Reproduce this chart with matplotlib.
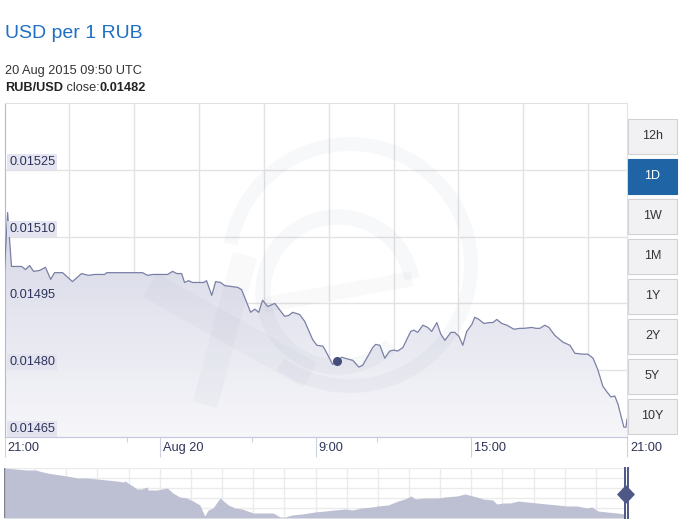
"""XE style intraday chart: USD per 1 RUB, 20 Aug 2015."""

import matplotlib

matplotlib.use("Agg")
import matplotlib.pyplot as plt
import matplotlib.patches as mpatches
import matplotlib.transforms as mtransforms
import numpy as np
from matplotlib.colors import LinearSegmentedColormap
from matplotlib.lines import Line2D

plt.rcParams["font.family"] = ["Liberation Sans", "DejaVu Sans"]

WIDTH, HEIGHT = 685, 525

# hours after 21:00 (Aug 19) and USD per 1 RUB
hours = [
    0.0, 0.12, 0.27, 0.66, 0.81, 0.97, 1.12, 1.35, 1.58, 1.78,
    1.93, 2.24, 2.62, 2.97, 3.24, 3.47, 3.86, 3.94, 5.32, 5.52,
    5.71, 6.29, 6.48, 6.64, 6.83, 6.94, 7.10, 7.25, 7.49, 7.68,
    7.79, 7.99, 8.14, 8.33, 8.49, 8.99, 9.14, 9.49, 9.65, 9.80,
    9.95, 10.15, 10.42, 10.80, 10.96, 11.11, 11.38, 11.57, 11.88, 12.04,
    12.27, 12.35, 12.65, 12.81, 13.00, 13.43, 13.66, 13.81, 14.20, 14.31,
    14.47, 14.66, 14.85, 15.01, 15.16, 15.36, 15.66, 15.78, 15.93, 16.13,
    16.32, 16.47, 16.67, 16.82, 16.98, 17.21, 17.36, 17.52, 17.67, 17.82,
    18.02, 18.13, 18.29, 18.48, 18.71, 18.83, 18.98, 19.17, 19.37, 19.64,
    19.87, 20.02, 20.33, 20.49, 20.64, 20.83, 20.99, 21.22, 21.53, 21.80,
    21.99, 22.30, 22.49, 22.69, 22.87, 23.07, 23.23, 23.38, 23.53, 23.65,
    23.88, 23.96, 24.0,
]
rates = [
    0.015026, 0.015154, 0.015033, 0.015033, 0.015026, 0.015035, 0.015022, 0.015024, 0.015031, 0.015004,
    0.015019, 0.015019, 0.014999, 0.015017, 0.015013, 0.015015, 0.015015, 0.015019, 0.015019, 0.015013,
    0.015015, 0.015015, 0.015022, 0.015017, 0.015017, 0.014997, 0.015001, 0.014997, 0.014997, 0.014997,
    0.015001, 0.014968, 0.014999, 0.014997, 0.014990, 0.014986, 0.014981, 0.014930, 0.014937, 0.014930,
    0.014957, 0.014943, 0.014950, 0.014921, 0.014923, 0.014930, 0.014925, 0.014910, 0.014869, 0.014856,
    0.014854, 0.014847, 0.014813, 0.014820, 0.014829, 0.014822, 0.014807, 0.014811, 0.014851, 0.014858,
    0.014856, 0.014827, 0.014843, 0.014845, 0.014843, 0.014851, 0.014887, 0.014890, 0.014885, 0.014901,
    0.014896, 0.014887, 0.014907, 0.014881, 0.014867, 0.014885, 0.014885, 0.014876, 0.014856, 0.014887,
    0.014903, 0.014919, 0.014914, 0.014905, 0.014907, 0.014907, 0.014914, 0.014905, 0.014901, 0.014892,
    0.014894, 0.014894, 0.014896, 0.014894, 0.014894, 0.014901, 0.014896, 0.014878, 0.014863, 0.014856,
    0.014838, 0.014836, 0.014836, 0.014827, 0.014802, 0.014764, 0.014751, 0.014740, 0.014742, 0.014724,
    0.014672, 0.014672, 0.014690,
]
hover_hour = 12.81

y_ticks = [0.01465, 0.01480, 0.01495, 0.01510, 0.01525]
y_top = 0.01540
x_ticks = [0, 6, 12, 18, 24]
x_labels = ["21:00", "Aug 20", "9:00", "15:00", "21:00"]
x_minor = [4.73, 9.54, 14.35]

# navigator: longer history, days across the strip
nav_days = [
    0, 1.6, 3.3, 4.5, 6.2, 7.1, 9.1, 10.6, 12.0, 13.4,
    14.9, 16.3, 17.2, 17.5, 17.9, 18.6, 19.2, 19.9, 20.7, 20.8,
    22.1, 23.6, 24.4, 25.4, 26.4, 27.3, 28.3, 29.0, 29.5, 30.2,
    31.2, 31.9, 32.4, 33.4, 34.4, 34.8, 36.0, 37.3, 38.9, 39.9,
    40.6, 41.6, 43.1, 44.9, 46.4, 47.8, 49.3, 50.3, 51.7, 53.2,
    54.0, 55.5, 56.9, 57.9, 58.8, 59.4, 60.8, 61.8, 62.7, 63.7,
    65.4, 66.6, 68.3, 69.2, 70.6, 71.2, 72.1, 73.1, 74.3, 75.6,
    77.0, 78.4, 79.9, 81.3, 82.8, 84.2, 84.9, 85.8, 87.1, 88.6,
    89.6,
]
nav_rates = [
    0.016000, 0.015973, 0.015946, 0.015946, 0.015865, 0.015838, 0.015784, 0.015730, 0.015730, 0.015703,
    0.015676, 0.015649, 0.015622, 0.015649, 0.015595, 0.015514, 0.015433, 0.015433, 0.015487, 0.015406,
    0.015406, 0.015460, 0.015325, 0.015217, 0.015190, 0.015109, 0.015001, 0.014704, 0.014866, 0.014920,
    0.015190, 0.015082, 0.015001, 0.014920, 0.014893, 0.014866, 0.014785, 0.014785, 0.014785, 0.014677,
    0.014677, 0.014731, 0.014758, 0.014812, 0.014839, 0.014866, 0.014893, 0.014866, 0.014920, 0.014947,
    0.014974, 0.015001, 0.015109, 0.015163, 0.015244, 0.015163, 0.015190, 0.015190, 0.015190, 0.015217,
    0.015244, 0.015298, 0.015217, 0.015163, 0.015136, 0.015028, 0.015055, 0.015055, 0.015109, 0.015082,
    0.015055, 0.015028, 0.015001, 0.014974, 0.014974, 0.014920, 0.014947, 0.014839, 0.014812, 0.014785,
    0.014758,
]
nav_span = (0, 90)
nav_floor, nav_ceiling = 0.01465, 0.01600

ranges = ["12h", "1D", "1W", "1M", "1Y", "2Y", "5Y", "10Y"]
selected_range = "1D"

TEXT = "#2e3359"
GRID = "#e2e2e2"
LINE = "#7a80a5"
WATERMARK = "#5c6088"


def fig_rect(left, top, right, bottom):
    """Pixel box (origin top-left) -> figure rectangle."""
    return [left / WIDTH, 1 - bottom / HEIGHT, (right - left) / WIDTH, (bottom - top) / HEIGHT]


def pixel(x, y):
    """Pixel position (origin top-left) -> display coords."""
    return x, HEIGHT - y


fig = plt.figure(figsize=(WIDTH / 100, HEIGHT / 100), dpi=100)
fig.patch.set_facecolor("white")

# ---- header
fig.text(5 / WIDTH, 1 - 33 / HEIGHT, "USD per 1 RUB", fontsize=14, color="#1f6fc5", va="center")
fig.text(5 / WIDTH, 1 - 71 / HEIGHT, "20 Aug 2015 09:50 UTC", fontsize=9.2, color="#333333", va="center")
pair = fig.text(5 / WIDTH, 1 - 88 / HEIGHT, "RUB/USD", fontsize=9.2, color="#222222",
                fontweight="bold", va="center")
close = fig.text(0, 0, " close:", fontsize=9.2, color="#333333", va="bottom")
close_value = fig.text(0, 0, "0.01482", fontsize=9.2, color="#222222", fontweight="bold", va="bottom")

# ---- main chart
ax = fig.add_axes(fig_rect(4.5, 103, 627, 437))
ax.set_facecolor("white")

floor = y_ticks[0]
outline = [(hours[0], floor)] + list(zip(hours, rates)) + [(hours[-1], floor)]
area = mpatches.Polygon(outline, closed=True, facecolor="none", edgecolor="none")
ax.add_patch(area)
shade = LinearSegmentedColormap.from_list("shade", ["#f7f7fa", "#d4d6e5"])
gradient = np.linspace(0, 1, 256).reshape(-1, 1)
image = ax.imshow(gradient, extent=(hours[0], hours[-1], floor, max(rates)), origin="lower",
                  cmap=shade, aspect="auto", zorder=1, interpolation="bilinear")
image.set_clip_path(area)

ax.plot(hours, rates, color=LINE, lw=0.9, zorder=4, solid_joinstyle="round")
ax.plot(hover_hour, rates[hours.index(hover_hour)], "o", ms=5.5, color="#474d7d", zorder=5)

ax.set_xlim(0, 24)
ax.set_ylim(floor, y_top)

for value in y_ticks[1:]:
    ax.axhline(value, color=GRID, lw=1, zorder=0.5)
for hour in np.arange(2.5, 24, 2.5):
    ax.axvline(hour, color=GRID, lw=1, zorder=0.5)

ax.set_yticks([])
ax.set_xticks(x_ticks, [""] * len(x_ticks))
ax.set_xticks(x_minor, minor=True)
ax.tick_params(axis="x", which="major", length=14.5, width=0.8, color="#cdd1e4", direction="out")
ax.tick_params(axis="x", which="minor", length=3.6, width=0.8, color="#cdd1e4", direction="out")

for side in ("top", "right"):
    ax.spines[side].set_color(GRID)
ax.spines["left"].set_color("#b4b8d4")
ax.spines["bottom"].set_color("#c3c7de")

label_tf = mtransforms.offset_copy(ax.get_xaxis_transform(), fig=fig, x=3, y=-5, units="dots")
for hour, label in zip(x_ticks, x_labels):
    ax.text(hour, 0, label, transform=label_tf, ha="left", va="top", fontsize=9.2, color=TEXT)

value_tf = mtransforms.offset_copy(ax.get_yaxis_transform(), fig=fig, x=4.5, y=2, units="dots")
for value in y_ticks:
    ax.text(0, value, f"{value:.5f}", transform=value_tf, ha="left", va="bottom", fontsize=9.2,
            color=TEXT, zorder=6,
            bbox=dict(boxstyle="square,pad=0.15", fc="#e2e3ef", ec="none", alpha=0.92))

# faint xe watermark
display = mtransforms.IdentityTransform()
marks = [
    mpatches.Arc(pixel(350, 265), 242, 242, theta1=-125, theta2=170, lw=10),
    mpatches.Arc(pixel(338, 292), 150, 150, theta1=10, theta2=315, lw=11),
]
for mark in marks:
    mark.set_transform(display)
    mark.set_color(WATERMARK)
    mark.set_alpha(0.045)
    mark.set_zorder(2)
    ax.add_patch(mark)
    mark.set_clip_box(ax.bbox)
strokes = [
    ((264, 305), (412, 279), 11),
    ((150, 285), (310, 375), 20),
    ((205, 405), (245, 255), 18),
]
for start, end, width in strokes:
    (x0, y0), (x1, y1) = pixel(*start), pixel(*end)
    stroke = Line2D([x0, x1], [y0, y1], transform=display, color=WATERMARK, alpha=0.035,
                    lw=width, solid_capstyle="butt", zorder=2)
    stroke.set_clip_box(ax.bbox)
    ax.add_line(stroke)

# ---- navigator
nav = fig.add_axes(fig_rect(4, 468, 627, 518))
nav.fill_between(nav_days, nav_rates, nav_floor, color="#bcc0d2", lw=0, zorder=2)
for day in np.linspace(*nav_span, 21)[1:]:
    nav.axvline(day, color="#ebebeb", lw=1, zorder=1)
for value in np.linspace(nav_floor, nav_ceiling, 6)[1:]:
    nav.axhline(value, color="#ebebeb", lw=1, zorder=1)
nav.axvline(nav_span[0], color="#80808f", lw=1, zorder=3)
nav.set_xlim(*nav_span)
nav.set_ylim(nav_floor, nav_ceiling)
nav.set_xticks([])
nav.set_yticks([])
for spine in nav.spines.values():
    spine.set_visible(False)

for x in (625, 628.3):
    fig.add_artist(Line2D([x, x], [HEIGHT - 468, HEIGHT - 518], transform=display,
                          color="#4e5887", lw=1.4))
diamond = mpatches.Polygon([pixel(626, 486), pixel(634, 494.5), pixel(626, 503), pixel(618, 494.5)],
                           closed=True, transform=display, color="#4e5887")
fig.add_artist(diamond)

# ---- range buttons
for index, name in enumerate(ranges):
    top = 118.5 + 40 * index
    active = name == selected_range
    button = mpatches.Rectangle(pixel(628, top + 35), 49, 35, transform=display,
                                facecolor="#1f65a6" if active else "#f1f1f4",
                                edgecolor="#1f65a6" if active else "#d2d2d6", lw=0.8)
    fig.add_artist(button)
    fig.text(652.5 / WIDTH, 1 - (top + 17.5) / HEIGHT, name, ha="center", va="center",
             fontsize=9, color="white" if active else "#333333")

# place the mixed-weight close line after layout
renderer = fig.canvas.get_renderer()
bbox = pair.get_window_extent(renderer)
close.set_transform(display)
close.set_position((bbox.x1, bbox.y0))
bbox = close.get_window_extent(renderer)
close_value.set_transform(display)
close_value.set_position((bbox.x1, bbox.y0))

fig.savefig("out.png", dpi=100)
